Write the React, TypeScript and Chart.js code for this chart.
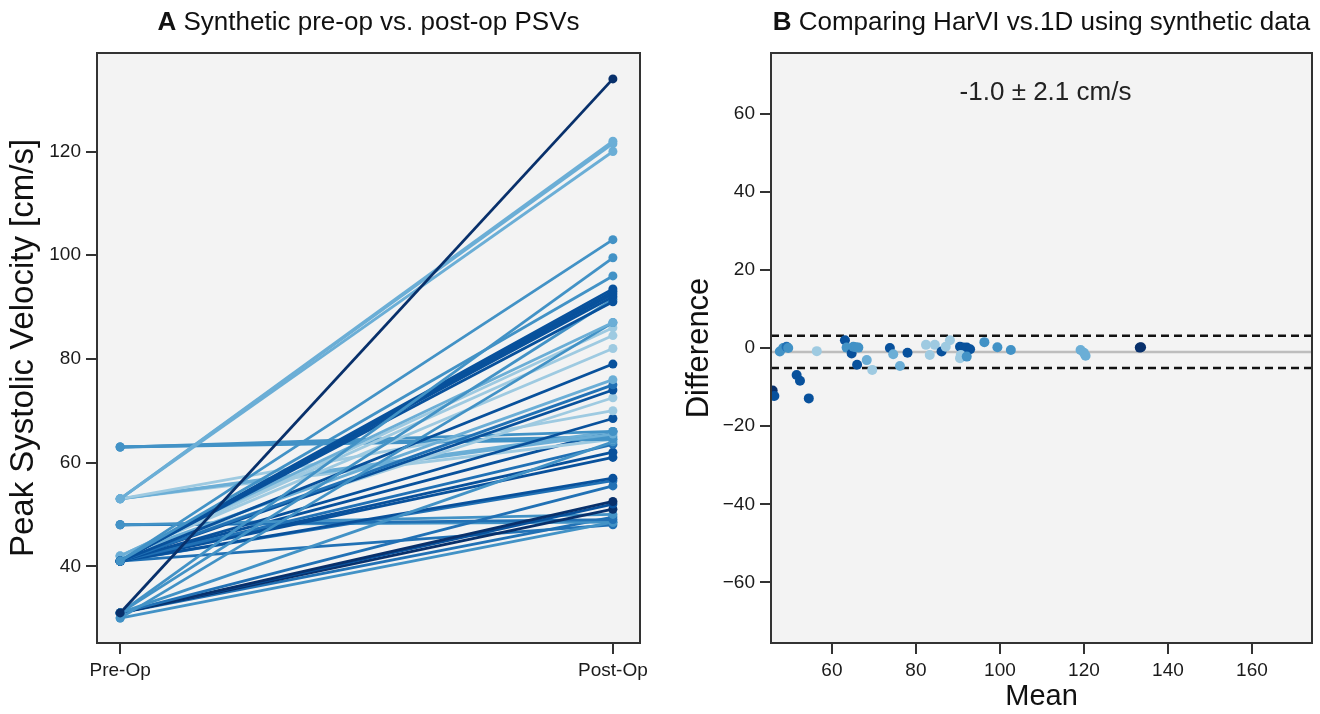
import React, { useEffect, useRef } from "react";
import { Chart, registerables } from "chart.js";
Chart.register(...registerables);

const FONT = "'Liberation Sans', Arial, Helvetica, sans-serif";

// ---------- Panel A data ----------
const phaseLabels = ["Pre-Op", "Post-Op"];
const preOp = [31, 53, 53, 53, 41, 31, 41, 41, 41, 41, 41, 41, 31, 42, 30, 42, 42, 42, 41, 42, 41, 41, 42, 53, 41, 63, 53, 53, 63, 63, 53, 31, 41, 41, 41, 41, 41, 31, 31, 31, 31, 48, 48, 48, 30, 41, 31, 41];
const postOp = [134, 122, 121.5, 120, 103, 99.5, 96, 93.5, 93, 92.5, 92, 91, 91.5, 87, 87, 86, 84.5, 82, 79, 76, 75, 74, 72.5, 70, 68.5, 66, 66, 65.5, 65, 64.5, 64.5, 64, 63.5, 62, 61, 57, 56.5, 55.5, 52.5, 52, 51, 50, 49, 48.5, 48.5, 48, 49.5, 66];
const subjectShade = [5, 1, 1, 1, 2, 2, 2, 4, 4, 4, 4, 4, 2, 1, 2, 0, 0, 0, 4, 1, 3, 4, 0, 0, 4, 2, 1, 1, 2, 2, 0, 2, 3, 4, 4, 4, 3, 3, 5, 4, 5, 2, 3, 2, 2, 3, 3, 4];
const leftYTicks = [40, 60, 80, 100, 120];

// ---------- Panel B data ----------
const baMean = [45.9, 46.3, 47.6, 48.4, 49.2, 49.6, 51.6, 52.4, 54.5, 56.4, 63.1, 63.5, 64.7, 65.1, 65.7, 66.3, 66.0, 68.3, 69.6, 73.8, 74.6, 76.2, 78.0, 82.4, 83.3, 84.5, 86.1, 87.1, 88.1, 90.5, 91.3, 92.1, 92.9, 90.5, 90.7, 92.1, 96.3, 99.4, 102.6, 119.2, 120.4, 120.0, 133.3, 133.6];
const baDiff = [-10.9, -12.3, -0.9, 0.0, 0.3, 0.0, -6.9, -8.4, -12.9, -0.8, 2.0, 0.1, -1.4, 0.3, 0.2, 0.1, -4.3, -3.1, -5.6, 0.0, -1.6, -4.6, -1.2, 0.8, -1.8, 0.8, -0.9, 0.3, 2.0, 0.3, 0.1, 0.1, -0.3, -2.6, -1.8, -2.2, 1.5, 0.2, -0.5, -0.5, -2.0, -1.2, 0.1, 0.2];
const baShade = [5, 4, 2, 2, 3, 2, 4, 4, 4, 0, 4, 2, 4, 2, 2, 2, 4, 1, 0, 4, 1, 1, 4, 0, 0, 0, 4, 0, 0, 4, 4, 4, 4, 0, 0, 2, 2, 2, 2, 1, 1, 1, 5, 5];
const bias = -1.0;
const sdDiff = 2.1;
const loaFactor = 1.96;
const rightXTicks = [60, 80, 100, 120, 140, 160];
const rightYTicks = [-60, -40, -20, 0, 20, 40, 60];

const blues = ["#9ecae1", "#6baed6", "#4292c6", "#2171b5", "#08519c", "#08306b"];
const AXIS = "#333333";
const TICK = "#1a1a1a";

function panelPlugin(letter: string, text: string) {
  return {
    id: "panelDecor",
    beforeDraw(chart: any) {
      const { ctx, chartArea: a } = chart;
      ctx.save();
      ctx.fillStyle = "#f3f3f3";
      ctx.fillRect(a.left, a.top, a.right - a.left, a.bottom - a.top);
      ctx.restore();
    },
    afterDraw(chart: any) {
      const { ctx, chartArea: a } = chart;
      ctx.save();
      ctx.strokeStyle = AXIS;
      ctx.lineWidth = 2;
      ctx.strokeRect(a.left, a.top, a.right - a.left, a.bottom - a.top);
      const boldFont = `bold 26px ${FONT}`;
      const regFont = `26px ${FONT}`;
      ctx.font = boldFont;
      const wL = ctx.measureText(letter).width;
      ctx.font = regFont;
      const rest = " " + text;
      const wR = ctx.measureText(rest).width;
      const cx = (a.left + a.right) / 2;
      const x = cx - (wL + wR) / 2;
      ctx.fillStyle = "#111";
      ctx.textBaseline = "middle";
      ctx.textAlign = "left";
      ctx.font = boldFont;
      ctx.fillText(letter, x, 23);
      ctx.font = regFont;
      ctx.fillText(rest, x + wL, 23);
      ctx.restore();
    },
  };
}

const blandAltmanPlugin = {
  id: "blandAltman",
  beforeDatasetsDraw(chart: any) {
    const { ctx, chartArea: a, scales } = chart;
    const y = scales.y;
    ctx.save();
    ctx.beginPath();
    ctx.rect(a.left, a.top, a.right - a.left, a.bottom - a.top);
    ctx.clip();
    ctx.strokeStyle = "#bdbdbd";
    ctx.lineWidth = 2.5;
    const ym = y.getPixelForValue(bias);
    ctx.beginPath();
    ctx.moveTo(a.left, ym);
    ctx.lineTo(a.right, ym);
    ctx.stroke();
    ctx.strokeStyle = "#111";
    ctx.lineWidth = 2.5;
    ctx.setLineDash([8, 5]);
    [bias + loaFactor * sdDiff, bias - loaFactor * sdDiff].forEach((v) => {
      const yy = y.getPixelForValue(v);
      ctx.beginPath();
      ctx.moveTo(a.left, yy);
      ctx.lineTo(a.right, yy);
      ctx.stroke();
    });
    ctx.restore();
  },
  afterDraw(chart: any) {
    const { ctx, chartArea: a } = chart;
    ctx.save();
    ctx.font = `26px ${FONT}`;
    ctx.fillStyle = "#222";
    ctx.textAlign = "center";
    ctx.textBaseline = "middle";
    ctx.fillText(`${bias.toFixed(1)} \u00b1 ${sdDiff.toFixed(1)} cm/s`, (a.left + a.right) / 2 + 4, a.top + 40);
    ctx.restore();
  },
};

const tickFont = { family: FONT, size: 19 };
const gridCfg = { drawOnChartArea: false, drawTicks: true, tickLength: 11, color: AXIS, lineWidth: 2 };
const borderCfg = { display: true, color: AXIS, width: 2 };
const fmtNum = (v: number) => (v < 0 ? "\u2212" + Math.abs(v) : String(v));

function LeftChart() {
  const ref = useRef<HTMLCanvasElement>(null);
  useEffect(() => {
    const datasets = preOp.map((p, i) => ({
      type: "line" as const,
      data: [
        { x: 0, y: p },
        { x: 1, y: postOp[i] },
      ],
      borderColor: blues[subjectShade[i]],
      backgroundColor: blues[subjectShade[i]],
      borderWidth: 2.8,
      pointRadius: 4.5,
      pointBorderWidth: 0,
      pointBackgroundColor: blues[subjectShade[i]],
      tension: 0,
    }));
    const chart = new Chart(ref.current!, {
      type: "line",
      data: { datasets },
      options: {
        animation: false,
        responsive: false,
        devicePixelRatio: 1,
        layout: { padding: { top: 53, right: 20, left: 0, bottom: 0 } },
        plugins: { legend: { display: false }, tooltip: { enabled: false } },
        scales: {
          x: {
            type: "linear",
            min: -0.047,
            max: 1.055,
            afterBuildTicks: (s: any) => {
              s.ticks = phaseLabels.map((_, i) => ({ value: i }));
            },
            ticks: {
              callback: (v: any) => phaseLabels[v],
              font: tickFont,
              color: TICK,
              padding: 5,
              maxRotation: 0,
              autoSkip: false,
            },
            grid: gridCfg,
            border: borderCfg,
            afterFit: (s: any) => {
              s.height = 71;
            },
          },
          y: {
            type: "linear",
            min: 25.2,
            max: 139,
            afterBuildTicks: (s: any) => {
              s.ticks = leftYTicks.map((v) => ({ value: v }));
            },
            ticks: { font: tickFont, color: TICK, padding: 5, callback: (v: any) => fmtNum(v) },
            grid: gridCfg,
            border: borderCfg,
            title: {
              display: true,
              text: "Peak Systolic Velocity [cm/s]",
              font: { family: FONT, size: 33 },
              color: "#111",
              padding: { top: 4, bottom: 0 },
            },
            afterFit: (s: any) => {
              s.width = 97;
            },
          },
        },
      } as any,
      plugins: [panelPlugin("A", "Synthetic pre-op vs. post-op PSVs")],
    });
    return () => chart.destroy();
  }, []);
  return <canvas ref={ref} width={660} height={714} style={{ position: "absolute", left: 0, top: 0, width: 660, height: 714 }} />;
}

function RightChart() {
  const ref = useRef<HTMLCanvasElement>(null);
  useEffect(() => {
    const pts = baMean.map((m, i) => ({ x: m, y: baDiff[i] }));
    const chart = new Chart(ref.current!, {
      type: "scatter",
      data: {
        datasets: [
          {
            data: pts,
            pointRadius: 5,
            pointBorderWidth: 0,
            pointBackgroundColor: baShade.map((s) => blues[s]),
            backgroundColor: baShade.map((s) => blues[s]),
          },
        ],
      },
      options: {
        animation: false,
        responsive: false,
        devicePixelRatio: 1,
        layout: { padding: { top: 53, right: 8, left: 0, bottom: 0 } },
        plugins: { legend: { display: false }, tooltip: { enabled: false } },
        scales: {
          x: {
            type: "linear",
            min: 45.5,
            max: 174.3,
            afterBuildTicks: (s: any) => {
              s.ticks = rightXTicks.map((v) => ({ value: v }));
            },
            ticks: { font: tickFont, color: TICK, padding: 5, maxRotation: 0, autoSkip: false, callback: (v: any) => fmtNum(v) },
            grid: gridCfg,
            border: borderCfg,
            title: {
              display: true,
              text: "Mean",
              font: { family: FONT, size: 29 },
              color: "#111",
              padding: { top: 0, bottom: 0 },
            },
            afterFit: (s: any) => {
              s.height = 71;
            },
          },
          y: {
            type: "linear",
            min: -75.5,
            max: 75.5,
            afterBuildTicks: (s: any) => {
              s.ticks = rightYTicks.map((v) => ({ value: v }));
            },
            ticks: { font: tickFont, color: TICK, padding: 5, callback: (v: any) => fmtNum(v) },
            grid: gridCfg,
            border: borderCfg,
            title: {
              display: true,
              text: "Difference",
              font: { family: FONT, size: 31 },
              color: "#111",
              padding: { top: 21, bottom: 0 },
            },
            afterFit: (s: any) => {
              s.width = 111;
            },
          },
        },
      } as any,
      plugins: [panelPlugin("B", "Comparing HarVI vs.1D using synthetic data"), blandAltmanPlugin],
    });
    return () => chart.destroy();
  }, []);
  return <canvas ref={ref} width={660} height={714} style={{ position: "absolute", left: 660, top: 0, width: 660, height: 714 }} />;
}

export default function App() {
  return (
    <div style={{ position: "fixed", left: 0, top: 0, width: 1320, height: 714, background: "#fff", overflow: "hidden" }}>
      <LeftChart />
      <RightChart />
    </div>
  );
}
